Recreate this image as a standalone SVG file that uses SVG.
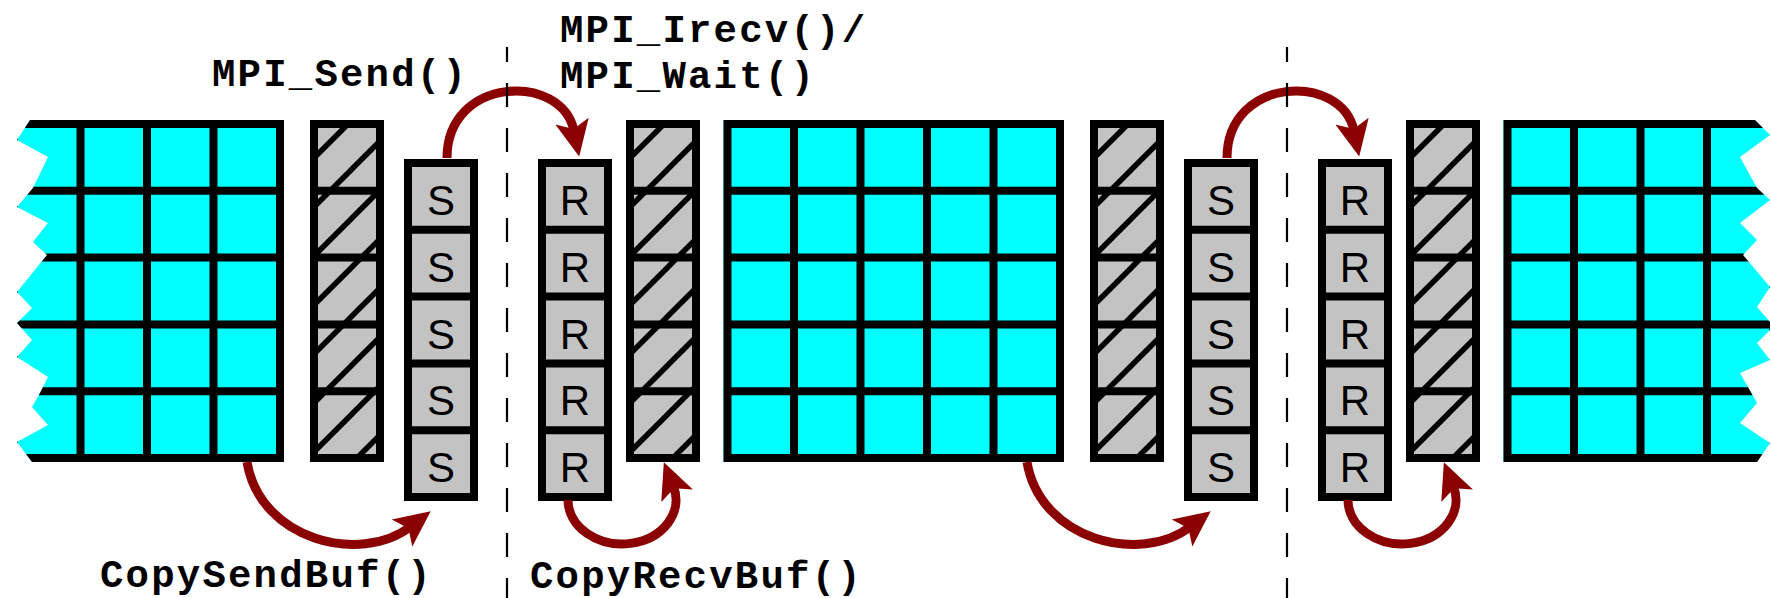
<svg xmlns="http://www.w3.org/2000/svg" xmlns:xlink="http://www.w3.org/1999/xlink" width="1771" height="598" viewBox="0 0 1771 598">
  <style>
    .lbl { font-family: "Liberation Mono", "DejaVu Sans Mono", monospace; font-weight: bold; font-size: 39px; letter-spacing: 2.2px; fill: #000; }
    .cell { font-family: "Liberation Sans", Arial, sans-serif; font-size: 42px; fill: #000; text-anchor: middle; }
    .edge { fill: none; stroke: #000; stroke-width: 8; }
    .flow { fill: none; stroke: #8b0000; stroke-width: 9; marker-end: url(#head); }
    .split { stroke: #000; stroke-width: 2.2; stroke-dasharray: 24 21; stroke-dashoffset: 9; }
  </style>
  <defs>
    <!-- arrowhead for the copy / message arrows -->
    <marker id="head" viewBox="0 -20 40 40" markerWidth="40" markerHeight="40" refX="10" refY="0" orient="auto" markerUnits="userSpaceOnUse">
      <path d="M36,0 L0,-17 L8,0 L0,17 Z" fill="#8b0000"/>
    </marker>
    <!-- diagonal hatching of halo cells -->
    <pattern id="hatch" patternUnits="userSpaceOnUse" x="-7" y="0" width="49" height="49">
      <rect width="49" height="49" fill="#c3c3c3"/>
      <path d="M-5,54 L54,-5 M-5,5 L5,-5 M44,54 L54,44" stroke="#000" stroke-width="5.5"/>
    </pattern>
    <!-- 5x5 block of local cells -->
    <g id="block">
      <rect x="0" y="0" width="340.5" height="342" fill="#00ffff"/>
      <path class="edge" d="M4,0 V342 M70.5,0 V342 M137,0 V342 M203.5,0 V342 M270,0 V342 M336.5,0 V342 M0,4 H340.5 M0,70.8 H340.5 M0,137.6 H340.5 M0,204.4 H340.5 M0,271.2 H340.5 M0,338 H340.5"/>
    </g>
    <!-- column of halo cells -->
    <g id="halo">
      <rect x="4" y="4" width="66" height="334" fill="url(#hatch)"/>
      <rect class="edge" x="4" y="4" width="66" height="334"/>
      <path class="edge" d="M0,70.8 H74 M0,137.6 H74 M0,204.4 H74 M0,271.2 H74"/>
    </g>
    <!-- column of send / receive buffer slots -->
    <g id="buf">
      <rect x="4" y="4" width="66" height="334" fill="#c3c3c3"/>
      <rect class="edge" x="4" y="4" width="66" height="334"/>
      <path class="edge" d="M0,70.8 H74 M0,137.6 H74 M0,204.4 H74 M0,271.2 H74"/>
    </g>
    <!-- torn edges of the partially shown blocks -->
    <clipPath id="tornLeft">
      <polygon points="30,116 300,116 300,466 32,466 32,462 17,442 48,425 32,407 40,393 48,377 17,357 32,340 17,323 32,308 17,292 47,255 33,242 48,223 17,207 33,188 48,157 17,140 30,120"/>
    </clipPath>
    <clipPath id="tornRight">
      <polygon points="1480,116 1755,116 1755,120 1770,135 1740,157 1757,188 1770,200 1740,223 1757,240 1743,255 1770,287 1757,307 1770,322 1770,330 1757,343 1770,360 1740,373 1757,403 1740,423 1770,443 1757,462 1757,466 1480,466"/>
    </clipPath>
  </defs>

  <!-- local data blocks -->
  <g id="block-left" clip-path="url(#tornLeft)">
    <use xlink:href="#block" x="-56.5" y="120"/>
  </g>
  <g id="block-mid">
    <use xlink:href="#block" x="723.5" y="120"/>
  </g>
  <g id="block-right" clip-path="url(#tornRight)">
    <use xlink:href="#block" x="1503.5" y="120"/>
  </g>

  <!-- halo columns -->
  <g id="halo-1"><use xlink:href="#halo" x="310" y="120"/></g>
  <g id="halo-2"><use xlink:href="#halo" x="626" y="120"/></g>
  <g id="halo-3"><use xlink:href="#halo" x="1090" y="120"/></g>
  <g id="halo-4"><use xlink:href="#halo" x="1406" y="120"/></g>

  <!-- send buffers -->
  <g id="sendbuf-1">
    <use xlink:href="#buf" x="404" y="159"/>
    <text class="cell" x="441" y="215">S</text>
    <text class="cell" x="441" y="281.8">S</text>
    <text class="cell" x="441" y="348.6">S</text>
    <text class="cell" x="441" y="415.4">S</text>
    <text class="cell" x="441" y="482.2">S</text>
  </g>
  <g id="sendbuf-2">
    <use xlink:href="#buf" x="1184" y="159"/>
    <text class="cell" x="1221" y="215">S</text>
    <text class="cell" x="1221" y="281.8">S</text>
    <text class="cell" x="1221" y="348.6">S</text>
    <text class="cell" x="1221" y="415.4">S</text>
    <text class="cell" x="1221" y="482.2">S</text>
  </g>

  <!-- receive buffers -->
  <g id="recvbuf-1">
    <use xlink:href="#buf" x="538" y="159"/>
    <text class="cell" x="575" y="215">R</text>
    <text class="cell" x="575" y="281.8">R</text>
    <text class="cell" x="575" y="348.6">R</text>
    <text class="cell" x="575" y="415.4">R</text>
    <text class="cell" x="575" y="482.2">R</text>
  </g>
  <g id="recvbuf-2">
    <use xlink:href="#buf" x="1318" y="159"/>
    <text class="cell" x="1355" y="215">R</text>
    <text class="cell" x="1355" y="281.8">R</text>
    <text class="cell" x="1355" y="348.6">R</text>
    <text class="cell" x="1355" y="415.4">R</text>
    <text class="cell" x="1355" y="482.2">R</text>
  </g>

  <!-- arrows -->
  <g id="connectors">
    <path class="flow" d="M447,158 C447,76 562,72 574,131"/>
    <path class="flow" d="M1227,158 C1227,76 1342,72 1354,131"/>
    <path class="flow" d="M247,462 C260,540 360,565 410,527"/>
    <path class="flow" d="M1027,462 C1040,540 1140,565 1190,527"/>
    <path class="flow" d="M568,500 A54,44 0 1 0 673.4,486.4"/>
    <path class="flow" d="M1348,500 A54,44 0 1 0 1453.4,486.4"/>
  </g>

  <!-- process boundaries -->
  <g id="boundaries">
    <line class="split" x1="507" y1="47" x2="507" y2="598"/>
    <line class="split" x1="1287" y1="47" x2="1287" y2="598"/>
  </g>

  <!-- call labels -->
  <g id="labels">
    <text class="lbl" x="212" y="86">MPI_Send()</text>
    <text class="lbl" x="560" y="42">MPI_Irecv()/</text>
    <text class="lbl" x="560" y="88">MPI_Wait()</text>
    <text class="lbl" x="100" y="587">CopySendBuf()</text>
    <text class="lbl" x="530" y="588">CopyRecvBuf()</text>
  </g>
</svg>
